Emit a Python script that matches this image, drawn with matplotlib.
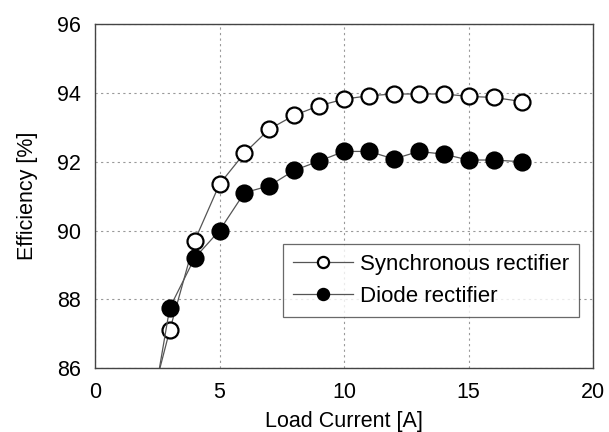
import matplotlib.pyplot as plt

plt.rcParams['font.family'] = ['Liberation Sans', 'DejaVu Sans']

# load current [A]
current = [2, 3, 4, 5, 6, 7, 8, 9, 10, 11, 12, 13, 14, 15, 16, 17.15]
sync_eff = [84.3, 87.1, 89.7, 91.35, 92.25, 92.95, 93.35, 93.63, 93.82, 93.92,
            93.97, 93.97, 93.97, 93.9, 93.87, 93.75]
diode_eff = [83.5, 87.75, 89.2, 90.0, 91.1, 91.3, 91.75, 92.02, 92.3, 92.3,
             92.08, 92.3, 92.22, 92.05, 92.05, 92.0]

fig = plt.figure(figsize=(6.09, 4.32), dpi=100)
ax = fig.add_axes([0.156, 0.148, 0.818, 0.796])

ax.plot(current, sync_eff, color='#555555', lw=0.9, marker='o', ms=11.5,
        mfc='white', mec='black', mew=1.6, label='Synchronous rectifier')
ax.plot(current, diode_eff, color='#555555', lw=0.9, marker='o', ms=11.5,
        mfc='black', mec='black', mew=1.6, label='Diode rectifier')

ax.set_xlim(0, 20)
ax.set_ylim(86, 96)
ax.set_xticks([0, 5, 10, 15, 20])
ax.set_yticks([86, 88, 90, 92, 94, 96])
ax.grid(True, color='#999999', linestyle=(0, (2, 3)), linewidth=0.8)
ax.tick_params(axis='y', length=0, labelsize=15.5, pad=10)
ax.tick_params(axis='x', length=0, labelsize=15.5, pad=10)
for s in ax.spines.values():
    s.set_color('#444444')
    s.set_linewidth(1.0)

ax.set_xlabel('Load Current [A]', fontsize=15.5, labelpad=6)
ax.set_ylabel('Efficiency [%]', fontsize=15.5, labelpad=14)

leg = ax.legend(loc='lower right', bbox_to_anchor=(0.972, 0.148), fontsize=16,
                markerscale=0.7, handlelength=2.7, frameon=True, fancybox=False,
                edgecolor='#444444', borderpad=0.45, labelspacing=0.5,
                handletextpad=0.3, borderaxespad=0)
leg.get_frame().set_linewidth(0.9)

fig.savefig('out.png', dpi=100)
